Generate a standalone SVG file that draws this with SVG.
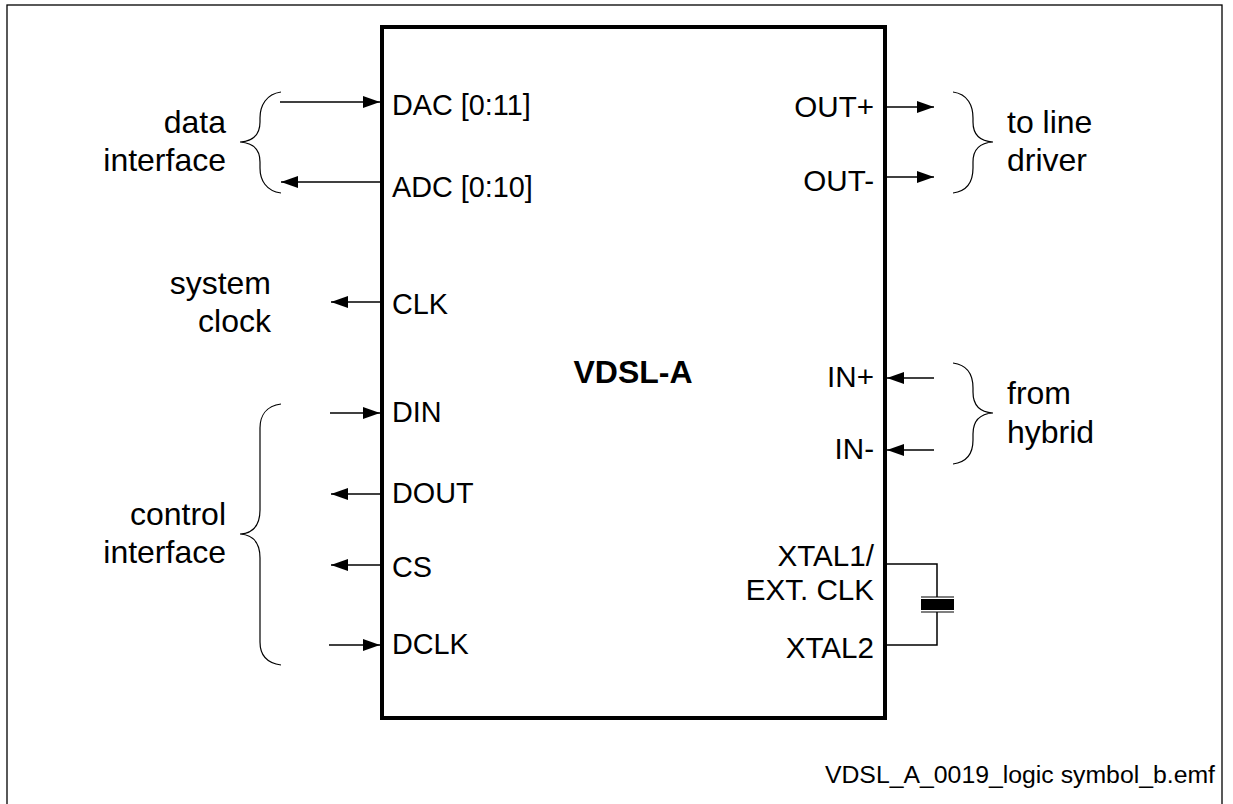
<svg xmlns="http://www.w3.org/2000/svg" width="1233" height="804" viewBox="0 0 1233 804">
<style>
text{font-family:"Liberation Sans",Arial,sans-serif;font-size:28.8px;fill:#000}
.m{text-anchor:middle}.e{text-anchor:end}
.r{font-size:29.6px}
.d{font-size:32px}
.w{fill:none;stroke:#000;stroke-width:1.5}
.b{fill:none;stroke:#000;stroke-width:1.2}
</style>
<defs><marker id="a" markerUnits="userSpaceOnUse" markerWidth="18" markerHeight="12" refX="17" refY="6" orient="auto"><path d="M0,0L17,6L0,12Z" fill="#000"/></marker></defs>
<rect width="1233" height="804" fill="#fff"/>
<rect id="frame" x="7" y="5" width="1215" height="810" fill="#fff" stroke="#000" stroke-width="1.3"/>
<g id="chip"><rect x="382" y="27" width="503" height="691" fill="#fff" stroke="#000" stroke-width="4"/><text x="633" y="383" class="m d" style="font-weight:bold">VDSL-A</text></g>
<g id="connectors">
<path class="w" marker-end="url(#a)" d="M280,102H380"/>
<path class="w" marker-end="url(#a)" d="M380,182H281"/>
<path class="w" marker-end="url(#a)" d="M380,302H331"/>
<path class="w" marker-end="url(#a)" d="M330,413H380"/>
<path class="w" marker-end="url(#a)" d="M380,494H331"/>
<path class="w" marker-end="url(#a)" d="M380,565H331"/>
<path class="w" marker-end="url(#a)" d="M329,645H380"/>
<path class="w" marker-end="url(#a)" d="M886,107H934"/>
<path class="w" marker-end="url(#a)" d="M886,177H934"/>
<path class="w" marker-end="url(#a)" d="M934,378H887"/>
<path class="w" marker-end="url(#a)" d="M934,450H887"/>
<path class="w" d="M887,564H937V597M937,612V645H887"/>
</g>
<g id="crystal"><path d="M921,597H954M921,612H954" fill="none" stroke="#000" stroke-width="1.2"/><rect x="921" y="599" width="33" height="11" fill="#000"/></g>
<g id="braces">
<path class="b" d="M281,92C266,94 260,106 260,118V122C260,132 256,141 240,142C256,143 260,152 260,162V168C260,180 266,191 281,193"/>
<path class="b" d="M281,404C266,406 260,416 260,428V510C260,522 256,533 240,534C256,535 260,546 260,558V642C260,654 266,663 281,665"/>
<path class="b" d="M953,92C968,94 973,106 973,118V122C973,132 977,141 993,142C977,143 973,152 973,162V168C973,180 968,191 953,193"/>
<path class="b" d="M953,363C968,365 973,376 973,388V392C973,402 977,412 993,413C977,414 973,424 973,434V440C973,452 968,462 953,464"/>
</g>
<g id="labels">
<text x="392" y="115">DAC [0:11]</text>
<text x="392" y="197">ADC [0:10]</text>
<text x="392" y="314">CLK</text>
<text x="392" y="422">DIN</text>
<text x="392" y="503">DOUT</text>
<text x="392" y="577">CS</text>
<text x="392" y="654">DCLK</text>
<text x="874" y="117" class="e r">OUT+</text>
<text x="874" y="191" class="e r">OUT-</text>
<text x="874" y="387" class="e r">IN+</text>
<text x="874" y="459" class="e r">IN-</text>
<text x="874" y="566" class="e r">XTAL1/</text>
<text x="874" y="600" class="e r">EXT. CLK</text>
<text x="874" y="658" class="e r">XTAL2</text>
<text x="226" y="133" class="e d">data</text>
<text x="226" y="171" class="e d">interface</text>
<text x="271" y="294" class="e d">system</text>
<text x="271" y="332" class="e d">clock</text>
<text x="226" y="525" class="e d">control</text>
<text x="226" y="563" class="e d">interface</text>
<text x="1007" y="133" class="d">to line</text>
<text x="1007" y="171" class="d">driver</text>
<text x="1007" y="404" class="d">from</text>
<text x="1007" y="443" class="d">hybrid</text>
<text x="1215" y="783" class="e" style="font-size:24.8px">VDSL_A_0019_logic symbol_b.emf</text>
</g>
</svg>
